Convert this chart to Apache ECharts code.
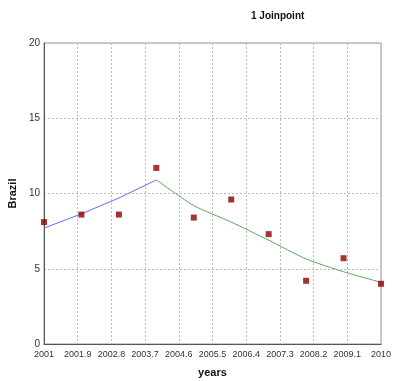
<!DOCTYPE html>
<html>
<head>
<meta charset="utf-8">
<script src="https://cdn.jsdelivr.net/npm/echarts@6/dist/echarts.min.js"></script>
<style>html,body{margin:0;padding:0;background:#fff}#c{width:401px;height:381px}</style>
</head>
<body>
<div id="c"></div>
<script>
var years = [2001, 2002, 2003, 2004, 2005, 2006, 2007, 2008, 2009, 2010];
var observed = [8.1, 8.6, 8.6, 11.7, 8.4, 9.6, 7.3, 4.2, 5.7, 4.0];
var seg1Years = [2001, 2002, 2003, 2004];
var seg1Fit = [7.7, 8.65, 9.7, 10.9];
var seg2Years = [2004, 2005, 2006, 2007, 2008, 2009, 2010];
var seg2Fit = [10.9, 9.2, 8.1, 6.9, 5.65, 4.8, 4.1];
var baseYear = 2001;
var xStep = 0.9;
var titleText = '1 Joinpoint';
var xName = 'years';
var yName = 'Brazil';

function pairs(xs, ys) { return xs.map(function (x, i) { return [x - baseYear, ys[i]]; }); }
var FONT = 'Liberation Sans';
var chart = echarts.init(document.getElementById('c'));
chart.setOption({
  animation: false,
  backgroundColor: '#fff',
  title: { text: titleText, left: 246, top: 6, textStyle: { fontFamily: FONT, fontSize: 10, fontWeight: 'bold', color: '#111' } },
  grid: { left: 44, right: 20, top: 43, bottom: 37, containLabel: false, outerBoundsMode: 'none', show: true, borderColor: '#999', borderWidth: 1, backgroundColor: 'transparent' },
  xAxis: {
    type: 'value', min: 0, max: 9, interval: xStep,
    name: xName, nameLocation: 'middle', nameGap: 23,
    nameTextStyle: { fontFamily: FONT, fontSize: 11, fontWeight: 'bold', color: '#111' },
    axisLine: { lineStyle: { color: '#555' } },
    axisTick: { show: false },
    axisLabel: { fontFamily: FONT, fontSize: 9, color: '#333', margin: 6,
      formatter: function (v) { return String(Number((v + baseYear).toFixed(1))); } },
    splitLine: { show: true, lineStyle: { color: '#bbb', type: [2, 2] } }
  },
  yAxis: {
    type: 'value', min: 0, max: 20, interval: 5,
    name: yName, nameLocation: 'middle', nameGap: 22, nameRotate: 90,
    nameTextStyle: { fontFamily: FONT, fontSize: 11, fontWeight: 'bold', color: '#111' },
    axisLine: { show: true, lineStyle: { color: '#555' } },
    axisTick: { show: false },
    axisLabel: { fontFamily: FONT, fontSize: 10, color: '#333', margin: 4 },
    splitLine: { show: true, lineStyle: { color: '#bbb', type: [2, 2] } }
  },
  series: [
    { type: 'line', data: pairs(seg1Years, seg1Fit), showSymbol: false, lineStyle: { color: '#6a6aff', width: 1 }, z: 2 },
    { type: 'line', data: pairs(seg2Years, seg2Fit), showSymbol: false, smooth: 0.2, lineStyle: { color: '#5fa55f', width: 1 }, z: 2 },
    { type: 'scatter', data: pairs(years, observed), symbol: 'rect', symbolSize: 6, itemStyle: { color: '#8f0000' }, z: 3 }
  ]
});
</script>
</body>
</html>
